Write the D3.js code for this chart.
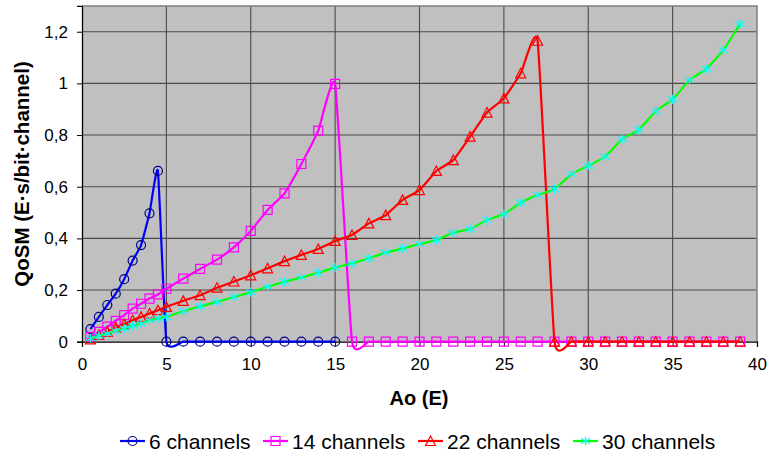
<!DOCTYPE html>
<html><head><meta charset="utf-8">
<script src="https://cdn.jsdelivr.net/npm/d3@7"></script>
<style>body{margin:0;background:#fff}svg{display:block}text{font-family:"Liberation Sans",Arial,sans-serif}</style>
</head><body><svg id="c" width="767" height="455"></svg>
<script>
const seriesNames = ["6 channels","14 channels","22 channels","30 channels"];
const xSmall = [0.5,1,1.5,2,2.5,3,3.5,4,4.5];
const xInt6 = [5,6,7,8,9,10,11,12,13,14,15];
const xInt = d3.range(5,40);
const y6 = [0.049,0.096,0.142,0.186,0.242,0.314,0.374,0.497,0.661, 0,0,0,0,0,0,0,0,0,0,0];
const y14 = [0.019,0.038,0.058,0.081,0.103,0.128,0.147,0.167,0.183,
  0.205,0.244,0.282,0.318,0.365,0.429,0.51,0.574,0.688,0.817,0.998,
  0,0,0,0,0,0,0,0,0,0,0,0,0,0,0,0,0,0,0,0,0,0,0,0];
const y22 = [0.009,0.026,0.038,0.055,0.068,0.083,0.096,0.109,0.122,
  0.135,0.158,0.18,0.209,0.233,0.257,0.284,0.312,0.336,0.359,0.39,0.413,0.458,0.49,0.549,0.587,0.661,0.703,0.794,0.887,0.942,1.039,1.165,
  0,0,0,0,0,0,0,0,0,0,0,0];
const y30 = [0.013,0.023,0.032,0.042,0.051,0.062,0.07,0.083,0.09,
  0.096,0.118,0.137,0.154,0.173,0.191,0.213,0.232,0.249,0.267,0.287,0.303,0.323,0.345,0.361,0.378,0.394,0.422,0.436,0.471,0.494,0.538,0.568,0.59,0.649,0.681,0.716,0.784,0.82,0.893,0.938,1.013,1.056,1.129,1.23];
const xTicks = [0,5,10,15,20,25,30,35,40];
const yTicks = [0,0.2,0.4,0.6,0.8,1,1.2];

const svg = d3.select("#c");
const L=82,R=757,T=5.9,B=341.7;
const x = d3.scaleLinear().domain([0,40]).range([L,R]);
const y = d3.scaleLinear().domain([0,1.3]).range([B,T]);

svg.append("rect").attr("x",L).attr("y",T).attr("width",R-L).attr("height",B-T).attr("fill","#c0c0c0");
// grid
svg.append("g").selectAll("line").data(xTicks.slice(1,-1)).join("line")
  .attr("x1",d=>x(d)).attr("x2",d=>x(d)).attr("y1",T).attr("y2",B)
  .attr("stroke","#4a4a4a").attr("stroke-width",1.1);
svg.append("g").selectAll("line").data(yTicks.slice(1)).join("line")
  .attr("y1",d=>y(d)).attr("y2",d=>y(d)).attr("x1",L).attr("x2",R)
  .attr("stroke","#4a4a4a").attr("stroke-width",1.1);
// border
svg.append("path").attr("d",`M${L},${T}H${R}V${B}`).attr("fill","none").attr("stroke","#808080").attr("stroke-width",1.5);

const xAxis = svg.append("g").attr("transform",`translate(0,${B})`)
  .call(d3.axisBottom(x).tickValues(xTicks).tickSize(5).tickPadding(11).tickFormat(d3.format("d")));
const yAxis = svg.append("g").attr("transform",`translate(${L},0)`)
  .call(d3.axisLeft(y).tickValues(yTicks).tickSize(5).tickPadding(9).tickFormat(d=>String(d).replace(".",",")));
[xAxis,yAxis].forEach(a=>{
  a.select(".domain").attr("stroke","#000").attr("stroke-width",1.3);
  a.selectAll(".tick line").attr("stroke","#000");
  a.selectAll("text").attr("font-size",17).attr("fill","#000").attr("font-family","Liberation Sans, Arial, sans-serif");
});

svg.append("text").attr("x",419).attr("y",405).attr("text-anchor","middle")
  .attr("font-size",20).attr("font-weight","bold").text("Ao (E)");
svg.append("text").attr("transform","translate(29,174) rotate(-90)").attr("text-anchor","middle")
  .attr("font-size",20.5).attr("font-weight","bold").text("QoSM (E·s/bit·channel)");

const series = [
  {name:seriesNames[0], xs:xSmall.concat(xInt6), ys:y6, line:"#0000ff", mk:"#000080", shape:"circle"},
  {name:seriesNames[1], xs:xSmall.concat(xInt), ys:y14, line:"#ff00ff", mk:"#ff00ff", shape:"square"},
  {name:seriesNames[2], xs:xSmall.concat(xInt), ys:y22, line:"#ff0000", mk:"#ff0000", shape:"triangle"},
  {name:seriesNames[3], xs:xSmall.concat(xInt), ys:y30, line:"#00ff00", mk:"#00ffff", shape:"star"}
];
const markerPath = (shape)=>{
  const r=4.5;
  if(shape==="circle") return `M${-r},0A${r},${r} 0 1,0 ${r},0A${r},${r} 0 1,0 ${-r},0Z`;
  if(shape==="square") return `M${-r},${-r}H${r}V${r}H${-r}Z`;
  if(shape==="triangle") return `M0,${-r-0.5}L${r+0.5},${r}L${-r-0.5},${r}Z`;
  return `M0,${-r}V${r}M${-r},${-r*0.6}L${r},${r*0.6}M${-r},${r*0.6}L${r},${-r*0.6}`;
};
const line = d3.line().x(d=>x(d[0])).y(d=>y(d[1])).curve(d3.curveCardinal.tension(0.6));
const plot = svg.append("g");
series.forEach(s=>{
  const pts = s.xs.map((xv,i)=>[xv,s.ys[i]]);
  plot.append("path").datum(pts).attr("d",line).attr("fill","none").attr("stroke",s.line).attr("stroke-width",2.2);
  plot.append("g").selectAll("path").data(pts).join("path")
    .attr("transform",d=>`translate(${x(d[0])},${y(d[1])})`)
    .attr("d",markerPath(s.shape)).attr("fill","none").attr("stroke",s.mk).attr("stroke-width",1.2);
});

// legend
const legX = [120,263,418,573];
const lg = svg.append("g");
series.forEach((s,i)=>{
  const g = lg.append("g").attr("transform",`translate(${legX[i]},441)`);
  g.append("line").attr("x1",0).attr("x2",25).attr("stroke",s.line).attr("stroke-width",2.2);
  g.append("path").attr("transform","translate(12.5,0)").attr("d",markerPath(s.shape)).attr("fill","none").attr("stroke",s.mk).attr("stroke-width",1.2);
  g.append("text").attr("x",29).attr("y",7.5).attr("font-size",21).attr("fill","#000").text(s.name);
});
</script></body></html>
